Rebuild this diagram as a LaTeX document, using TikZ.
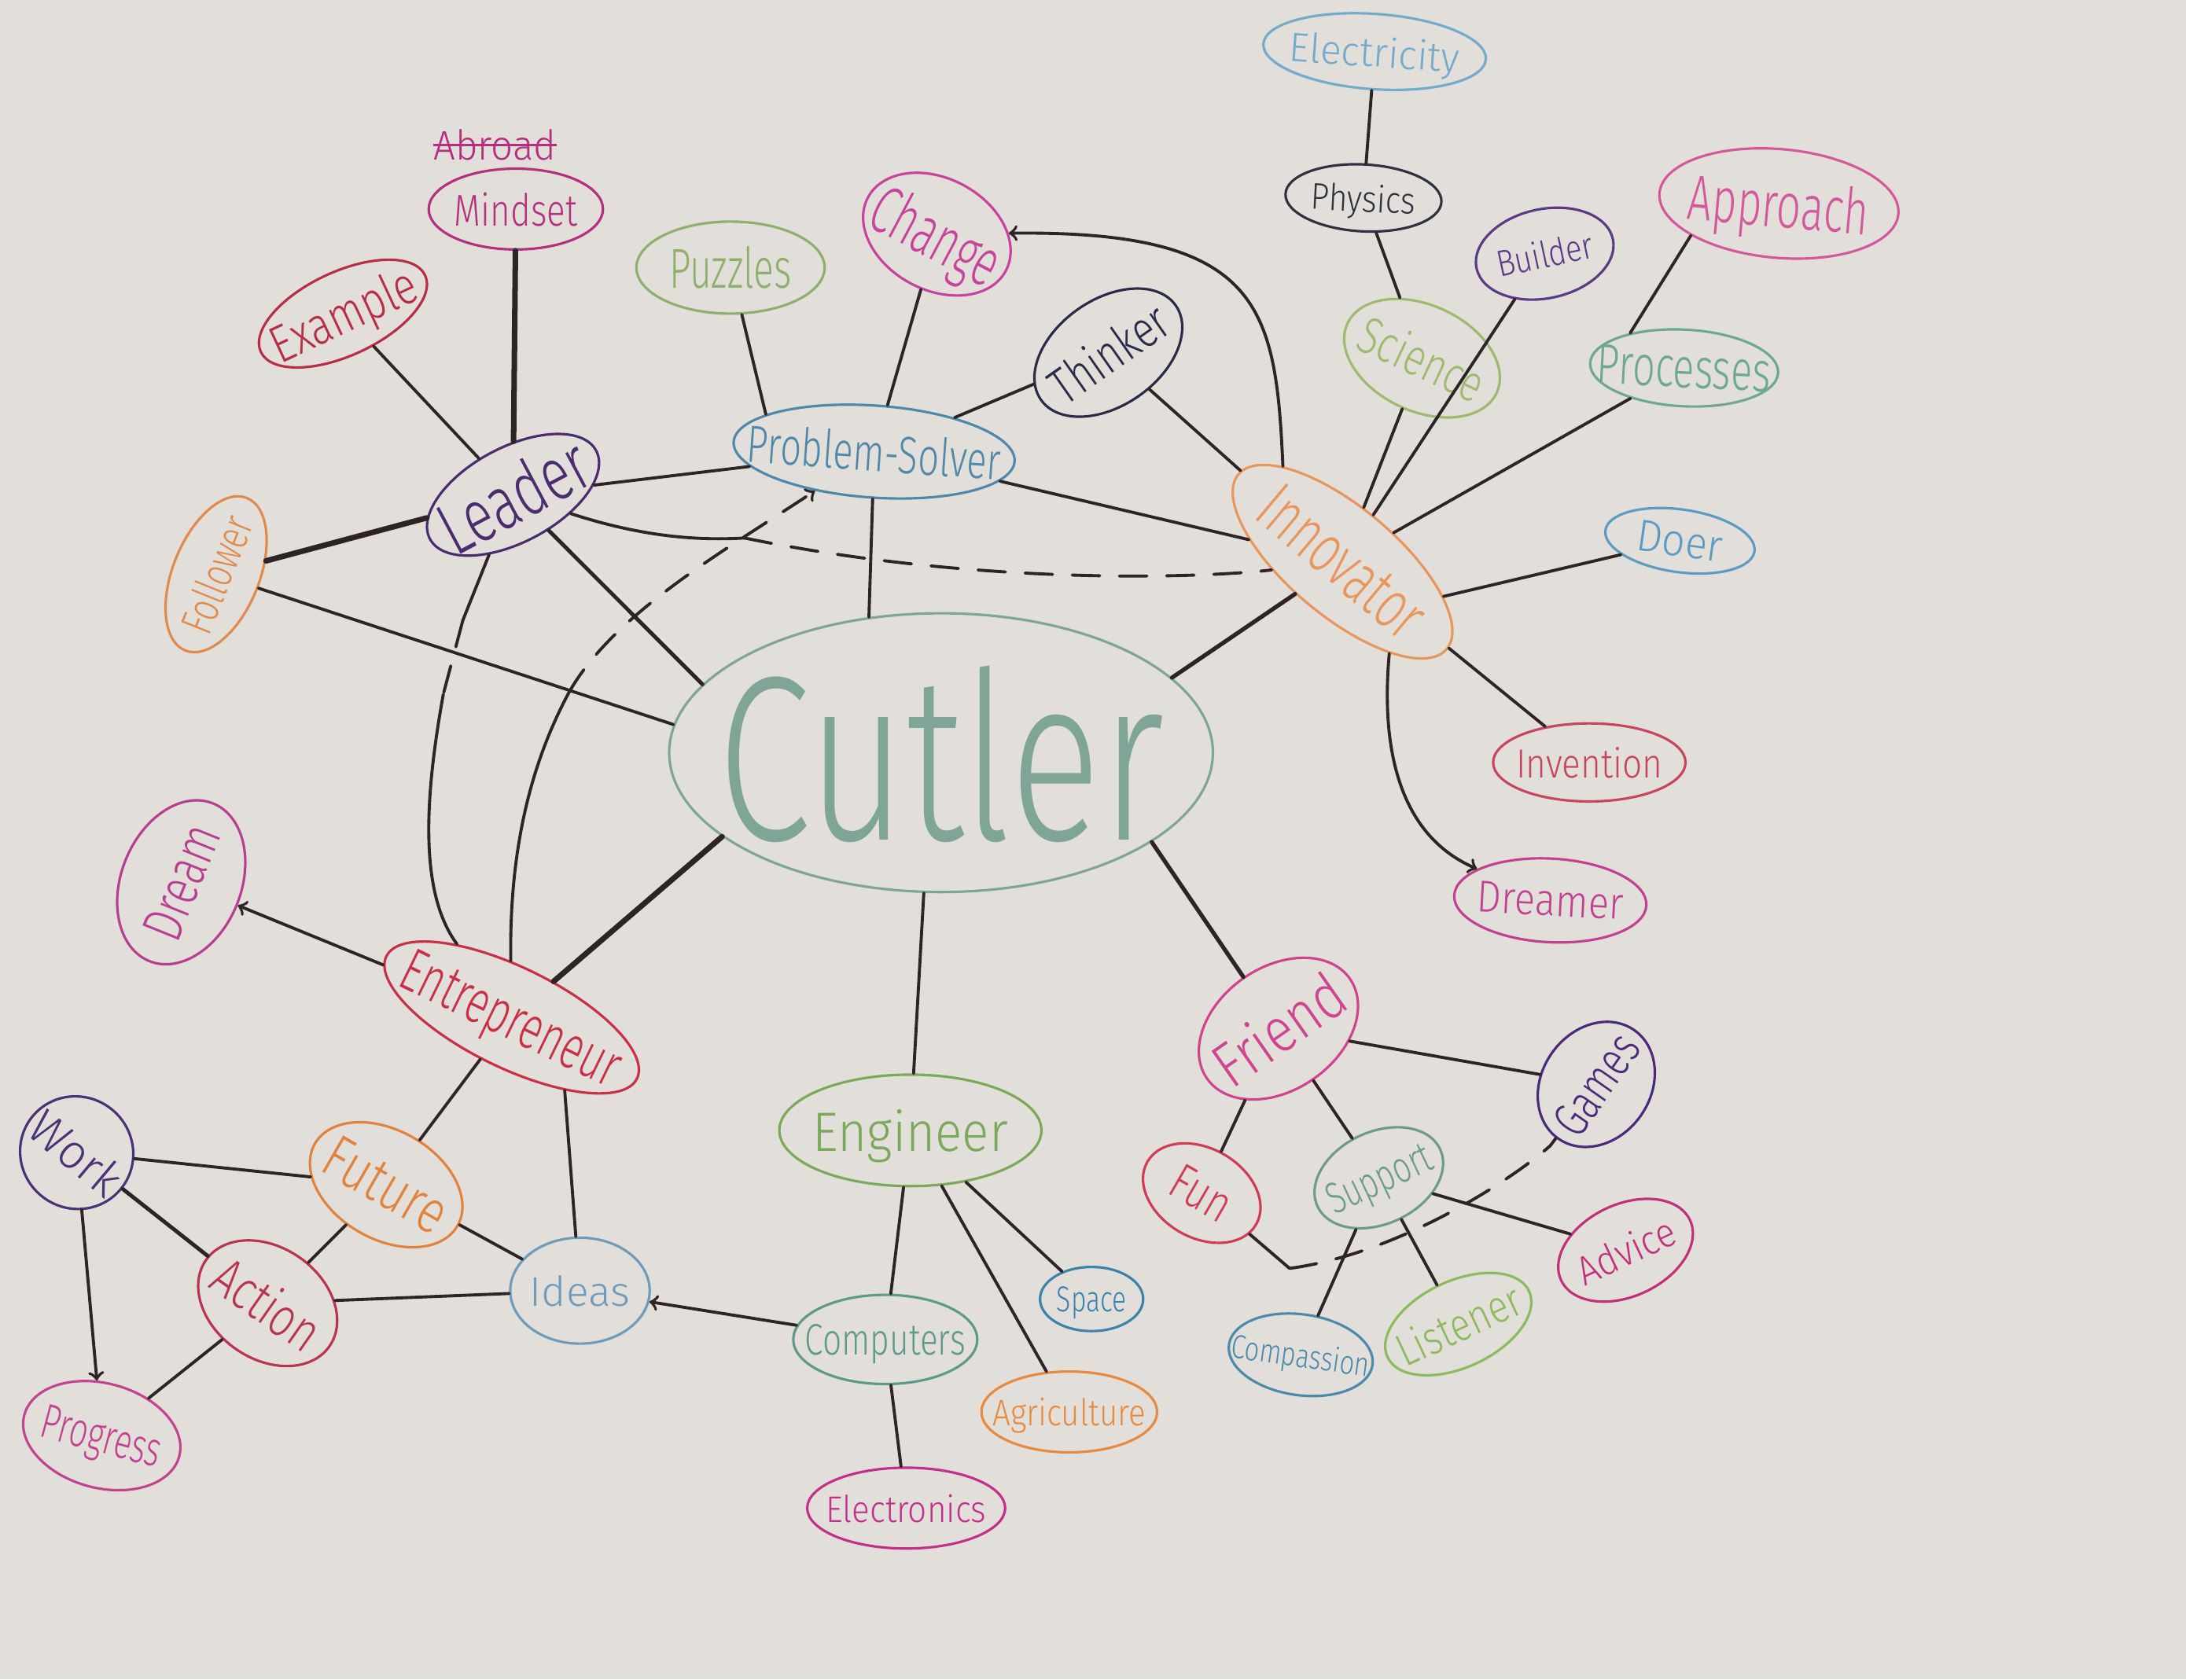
\documentclass[tikz,border=0pt]{standalone}
\usepackage{fontspec}
\setmainfont{Fira Sans Light}
\usepackage{graphicx}
\usetikzlibrary{shapes.geometric}

\newlength\pxu
\setlength\pxu{0.1773mm}
% text squeezed to the size the pen wrote it
\newcommand\lbl[3]{\makebox[0pt]{\raisebox{-.5\height}[0pt][0pt]{\resizebox{#1\pxu}{#2\pxu}{#3}}}}

\definecolor{paper}{HTML}{E2DFDA}
\definecolor{inkc}{HTML}{2E2428}
\definecolor{cCut}{HTML}{7FA596}
\definecolor{cLead}{HTML}{4B2C6E}
\definecolor{cMind}{HTML}{B4307E}
\definecolor{cExa}{HTML}{B72E45}
\definecolor{cFol}{HTML}{E08A4E}
\definecolor{cPuz}{HTML}{8DB06E}
\definecolor{cCha}{HTML}{C8439C}
\definecolor{cPS}{HTML}{4F88A8}
\definecolor{cThi}{HTML}{2C2A48}
\definecolor{cEle}{HTML}{74AACA}
\definecolor{cPhy}{HTML}{30303F}
\definecolor{cSci}{HTML}{9DBA6E}
\definecolor{cBui}{HTML}{5C3A84}
\definecolor{cApp}{HTML}{D4589C}
\definecolor{cPro}{HTML}{6EA88E}
\definecolor{cInn}{HTML}{E8975C}
\definecolor{cDoe}{HTML}{5C9CC2}
\definecolor{cInv}{HTML}{C8455E}
\definecolor{cDre}{HTML}{C04290}
\definecolor{cDrm}{HTML}{B83F90}
\definecolor{cEnt}{HTML}{C93045}
\definecolor{cWor}{HTML}{4C3274}
\definecolor{cFut}{HTML}{E0833E}
\definecolor{cAct}{HTML}{B9344E}
\definecolor{cPrg}{HTML}{C24490}
\definecolor{cIde}{HTML}{6E9CBA}
\definecolor{cEng}{HTML}{7CA85C}
\definecolor{cCom}{HTML}{5E9A8C}
\definecolor{cSpa}{HTML}{3C82AA}
\definecolor{cAgr}{HTML}{E88A3E}
\definecolor{cElc}{HTML}{C2308A}
\definecolor{cFri}{HTML}{D0448F}
\definecolor{cGam}{HTML}{4C2A7A}
\definecolor{cFun}{HTML}{D03C54}
\definecolor{cSup}{HTML}{6E9C8C}
\definecolor{cAdv}{HTML}{C2307C}
\definecolor{cCmp}{HTML}{4C8AAA}
\definecolor{cLis}{HTML}{8CBA5C}

\begin{document}
\begin{tikzpicture}[x=0.1773mm,y=-0.1773mm,
  bub/.style 2 args={ellipse,draw,inner sep=0pt,line width=0.9pt,minimum width=#1*0.1773mm,minimum height=#2*0.1773mm},
  pen/.style={draw=#1,text=#1},
  ink/.style={draw=inkc,line width=1.1pt,line cap=round},
  heavy/.style={ink,line width=2pt},
  dashed/.style={dash pattern=on 3.5mm off 2.5mm}]
\useasboundingbox (0,0) rectangle (1568,1205);
\fill[paper] (0,0) rectangle (1568,1205);

\node[bub={390}{200},pen=cCut] at (675,540) (cut) {\lbl{320}{125}{Cutler}};
\node[bub={135}{68},pen=cLead,rotate=28] at (368,355) (lead) {\lbl{115}{40}{Leader}};
\node[bub={125}{58},pen=cMind] at (370,150) (mind) {\lbl{88}{24}{Mindset}};
\node[inner sep=0pt,minimum width=88*0.1773mm,text=cMind] at (355,104) (abr) {\lbl{88}{22}{Abroad}};
\node[bub={130}{60},pen=cExa,rotate=25] at (246,225) (exa) {\lbl{112}{28}{Example}};
\node[bub={118}{62},pen=cFol,rotate=68] at (155,412) (fol) {\lbl{88}{24}{Follower}};
\node[bub={135}{66},pen=cPuz] at (524,192) (puz) {\lbl{88}{30}{Puzzles}};
\node[bub={112}{80},pen=cCha,rotate=-28] at (672,168) (cha) {\lbl{98}{36}{Change}};
\node[bub={202}{66},pen=cPS,rotate=-4] at (627,324) (ps) {\lbl{182}{28}{Problem-Solver}};
\node[bub={118}{76},pen=cThi,rotate=35] at (795,253) (thi) {\lbl{95}{28}{Thinker}};
\node[bub={160}{54},pen=cEle,rotate=-4] at (986,37) (ele) {\lbl{122}{22}{Electricity}};
\node[bub={112}{48},pen=cPhy,rotate=-3] at (978,142) (phy) {\lbl{75}{20}{Physics}};
\node[bub={118}{76},pen=cSci,rotate=-25] at (1020,257) (sci) {\lbl{95}{28}{Science}};
\node[bub={100}{64},pen=cBui,rotate=12] at (1108,182) (bui) {\lbl{70}{20}{Builder}};
\node[bub={172}{78},pen=cApp,rotate=-5] at (1276,146) (app) {\lbl{130}{34}{Approach}};
\node[bub={135}{55},pen=cPro,rotate=-3] at (1208,264) (pro) {\lbl{125}{28}{Processes}};
\node[bub={195}{78},pen=cInn,rotate=-40] at (963,403) (inn) {\lbl{140}{34}{Innovator}};
\node[bub={108}{45},pen=cDoe,rotate=-8] at (1205,388) (doe) {\lbl{62}{22}{Doer}};
\node[bub={138}{56},pen=cInv] at (1140,547) (inv) {\lbl{105}{22}{Invention}};
\node[bub={138}{60},pen=cDre,rotate=-3] at (1112,646) (dre) {\lbl{105}{22}{Dreamer}};
\node[bub={122}{86},pen=cDrm,rotate=68] at (130,633) (drm) {\lbl{85}{28}{Dream}};
\node[bub={200}{72},pen=cEnt,rotate=-26] at (367,730) (ent) {\lbl{170}{30}{Entrepreneur}};
\node[bub={82}{80},pen=cWor,rotate=-40] at (55,827) (wor) {\lbl{75}{26}{Work}};
\node[bub={118}{78},pen=cFut,rotate=-30] at (277,850) (fut) {\lbl{95}{30}{Future}};
\node[bub={108}{80},pen=cAct,rotate=-35] at (192,935) (act) {\lbl{85}{30}{Action}};
\node[bub={115}{75},pen=cPrg,rotate=-15] at (73,1030) (prg) {\lbl{88}{24}{Progress}};
\node[bub={100}{76},pen=cIde] at (416,926) (ide) {\lbl{72}{22}{Ideas}};
\node[bub={188}{80},pen=cEng] at (653,811) (eng) {\lbl{140}{30}{Engineer}};
\node[bub={132}{64},pen=cCom] at (635,961) (com) {\lbl{115}{22}{Computers}};
\node[bub={74}{46},pen=cSpa] at (783,932) (spa) {\lbl{50}{18}{Space}};
\node[bub={126}{58},pen=cAgr] at (767,1013) (agr) {\lbl{110}{20}{Agriculture}};
\node[bub={142}{58},pen=cElc] at (650,1082) (elc) {\lbl{115}{20}{Electronics}};
\node[bub={125}{88},pen=cFri,rotate=35] at (917,738) (fri) {\lbl{105}{34}{Friend}};
\node[bub={95}{78},pen=cGam,rotate=55] at (1145,778) (gam) {\lbl{80}{25}{Games}};
\node[bub={90}{64},pen=cFun,rotate=-30] at (862,856) (fun) {\lbl{45}{25}{Fun}};
\node[bub={97}{66},pen=cSup,rotate=25] at (989,845) (sup) {\lbl{80}{22}{Support}};
\node[bub={102}{66},pen=cAdv,rotate=25] at (1166,897) (adv) {\lbl{75}{22}{Advice}};
\node[bub={104}{58},pen=cCmp,rotate=-8] at (933,972) (cmp) {\lbl{100}{18}{Compassion}};
\node[bub={112}{62},pen=cLis,rotate=25] at (1046,950) (lis) {\lbl{95}{25}{Listener}};

\coordinate (lm) at (534,386);
\coordinate (la) at (332,445);
\coordinate (lb) at (318,498);
\coordinate (ea) at (408,497);
\coordinate (fa) at (925,910);
\coordinate (fb) at (1112,822);

\draw[cMind,line width=1pt] (abr.west) -- (abr.east);

\draw[ink] (cut.118) -- (ps);
\draw[ink,line width=1.4pt] (cut.164) -- (lead);
\draw[ink] (cut.174) -- (fol);
\draw[heavy] (cut.201) -- (ent);
\draw[ink] (cut.263) -- (eng);
\draw[ink,line width=1.5pt] (cut.337) -- (fri);
\draw[ink,line width=1.5pt] (cut.18) -- (inn);
\draw[heavy] (lead) -- (mind);
\draw[ink] (lead) -- (exa);
\draw[heavy] (lead) -- (fol);
\draw[ink] (lead) -- (ps);
\draw[ink] (lead) .. controls (460,385) and (500,388) .. (lm);
\draw[ink,dashed] (lm) .. controls (700,420) and (860,415) .. (inn);
\draw[ink] (lead) -- (la);
\draw[ink,dashed] (la) -- (lb);
\draw[ink] (lb) .. controls (305,570) and (300,640) .. (ent);
\draw[ink] (ent) .. controls (365,600) and (385,540) .. (ea);
\draw[ink,dashed,->] (ea) .. controls (440,440) and (520,395) .. (ps);
\draw[ink] (ps.165) -- (puz);
\draw[ink] (ps) -- (cha);
\draw[ink] (ps) -- (thi);
\draw[ink] (ps) -- (inn);
\draw[ink,->] (inn.162) .. controls (915,220) and (905,165) .. (cha);
\draw[ink] (thi) -- (inn);
\draw[ink] (inn) -- (sci);
\draw[ink] (inn) -- (bui);
\draw[ink] (inn) -- (pro);
\draw[ink] (pro.150) -- (app.205);
\draw[ink] (inn.21) -- (doe);
\draw[ink] (inn) -- (inv);
\draw[ink,->] (inn.-23) .. controls (990,540) and (1005,600) .. (dre);
\draw[ink] (phy) -- (sci);
\draw[ink] (ele) -- (phy);
\draw[ink,->] (ent) -- (drm);
\draw[ink] (ent) -- (fut);
\draw[ink] (ent.-28) -- (ide);
\draw[ink] (wor) -- (fut);
\draw[ink,line width=1.4pt] (wor) -- (act);
\draw[ink,->] (wor) -- (prg);
\draw[ink] (fut) -- (act);
\draw[ink] (fut) -- (ide);
\draw[ink] (act) -- (prg);
\draw[ink] (act) -- (ide);
\draw[ink,->] (com) -- (ide);
\draw[ink] (eng) -- (com);
\draw[ink] (eng) -- (agr);
\draw[ink] (eng) -- (spa);
\draw[ink] (com) -- (elc);
\draw[ink] (fri) -- (gam);
\draw[ink] (fri) -- (fun);
\draw[ink] (fri) -- (sup);
\draw[ink] (fun) -- (fa);
\draw[ink,dashed] (fa) .. controls (1000,900) and (1080,850) .. (fb);
\draw[ink] (fb) -- (gam);
\draw[ink] (sup) -- (adv);
\draw[ink] (sup) -- (cmp);
\draw[ink] (sup) -- (lis);
\end{tikzpicture}
\end{document}
